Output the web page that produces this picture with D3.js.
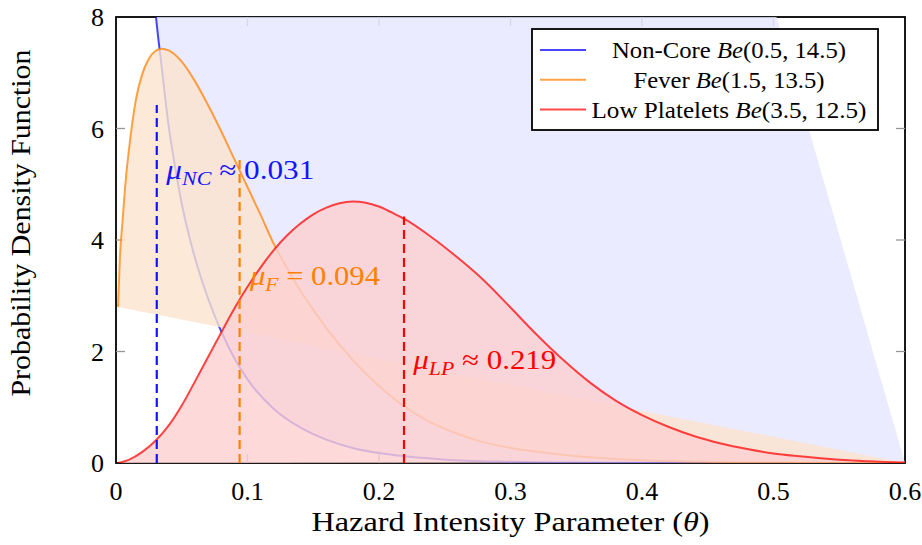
<!DOCTYPE html>
<html>
<head>
<meta charset="utf-8">
<script src="https://cdn.jsdelivr.net/npm/d3@7"></script>
<style>
  body { margin: 0; background: #fff; }
  svg { display: block; }
  text { font-family: 'Liberation Serif', 'Times New Roman', 'DejaVu Serif', serif; }
</style>
</head>
<body>
<div id="chart"></div>
<script>
// values
const xTicks = [0, 0.1, 0.2, 0.3, 0.4, 0.5, 0.6];
const yTicks = [0, 2, 4, 6, 8];

const ncTheta = [0.0015, 0.005, 0.01, 0.02, 0.03, 0.035, 0.04, 0.045, 0.05, 0.06, 0.07, 0.08, 0.09, 0.10,
                 0.12, 0.14, 0.16, 0.18, 0.20, 0.22, 0.25, 0.30, 0.35, 0.40, 0.50, 0.60];
const ncPdf = [49, 26, 18, 11.5, 8.1, 7.05, 6.05, 5.3, 4.65, 3.68, 2.95, 2.36, 1.88, 1.5,
               0.97, 0.64, 0.42, 0.27, 0.18, 0.12, 0.06, 0.022, 0.008, 0.003, 0.0004, 0];

const feverTheta = [0.0015, 0.003, 0.005, 0.0075, 0.01, 0.015, 0.02, 0.025, 0.03, 0.035, 0.04, 0.05, 0.06,
                    0.07, 0.08, 0.09, 0.10, 0.11, 0.12, 0.13, 0.14, 0.15, 0.16, 0.18, 0.20, 0.22, 0.24,
                    0.26, 0.28, 0.30, 0.32, 0.35, 0.40, 0.45, 0.50, 0.55, 0.60];
const feverPdf = [2.8, 3.7, 4.35, 5.1, 5.65, 6.5, 6.98, 7.25, 7.39, 7.43, 7.40, 7.2, 6.85,
                  6.42, 5.95, 5.45, 4.95, 4.45, 3.93, 3.5, 3.1, 2.75, 2.42, 1.85, 1.38, 1.0, 0.72,
                  0.52, 0.37, 0.27, 0.2, 0.12, 0.05, 0.02, 0.008, 0.003, 0.001];

const lpTheta = [0.0015, 0.01, 0.02, 0.03, 0.04, 0.05, 0.06, 0.07, 0.08, 0.09, 0.10, 0.11, 0.12, 0.13,
                 0.14, 0.15, 0.16, 0.17, 0.18, 0.19, 0.20, 0.21, 0.22, 0.24, 0.26, 0.28, 0.30, 0.32,
                 0.34, 0.36, 0.38, 0.40, 0.42, 0.44, 0.46, 0.48, 0.50, 0.52, 0.55, 0.60];
const lpPdf = [0, 0.06, 0.2, 0.4, 0.67, 1.03, 1.46, 1.9, 2.34, 2.77, 3.16, 3.51, 3.82, 4.08,
               4.29, 4.46, 4.58, 4.66, 4.69, 4.67, 4.6, 4.49, 4.37, 4.05, 3.68, 3.27, 2.79, 2.30,
               1.85, 1.45, 1.12, 0.86, 0.65, 0.48, 0.35, 0.25, 0.17, 0.12, 0.06, 0.01];

const meanValues = [0.031, 0.094, 0.219];
const meanTops = [6.42, 5.49, 4.42];
const meanSubs = ['NC', 'F', 'LP'];
const meanSigns = ['\u2248', '=', '\u2248'];

const legendNames = ['Non-Core', 'Fever', 'Low Platelets'];
const legendParams = ['(0.5, 14.5)', '(1.5, 13.5)', '(3.5, 12.5)'];

const W = 922, H = 545;
const plot = {left: 116, right: 905, top: 17, bottom: 463};
const serif = "'Liberation Serif', 'Times New Roman', 'DejaVu Serif', serif";

const x = d3.scaleLinear().domain([0, 0.6]).range([plot.left, plot.right]);
const y = d3.scaleLinear().domain([0, 8]).range([plot.bottom, plot.top]);

const series = [
    {theta: ncTheta, pdf: ncPdf, line: '#0000ff', fill: 'rgb(230,230,255)', mean: 'rgb(20,20,255)'},
    {theta: feverTheta, pdf: feverPdf, line: '#ff8000', fill: 'rgb(253,228,205)', mean: 'rgb(255,128,0)'},
    {theta: lpTheta, pdf: lpPdf, line: '#ff0000', fill: 'rgb(253,208,208)', mean: 'rgb(255,0,0)'}
];

const svg = d3.select('#chart')
    .append('svg')
    .attr('width', W)
    .attr('height', H)
    .attr('font-family', serif);

svg.append('defs').append('clipPath')
    .attr('id', 'plot-clip')
    .append('rect')
    .attr('x', plot.left)
    .attr('y', plot.top)
    .attr('width', plot.right - plot.left)
    .attr('height', plot.bottom - plot.top);

// frame + ticks first, the fills go over them like in pgfplots
svg.append('rect')
    .attr('x', plot.left)
    .attr('y', plot.top)
    .attr('width', plot.right - plot.left)
    .attr('height', plot.bottom - plot.top)
    .attr('fill', 'none')
    .attr('stroke', '#000')
    .attr('stroke-width', 1.8);

const tickLen = 9;
const innerX = xTicks.filter(t => t > 0 && t < 0.6);
const innerY = yTicks.filter(t => t > 0 && t < 8);
const tickGrp = svg.append('g')
    .attr('stroke', 'rgb(150,150,150)')
    .attr('stroke-width', 1.3);

innerX.forEach(t => {
    tickGrp.append('line').attr('x1', x(t)).attr('x2', x(t)).attr('y1', plot.bottom).attr('y2', plot.bottom - tickLen);
    tickGrp.append('line').attr('x1', x(t)).attr('x2', x(t)).attr('y1', plot.top).attr('y2', plot.top + tickLen);
});
innerY.forEach(t => {
    tickGrp.append('line').attr('x1', plot.left).attr('x2', plot.left + tickLen).attr('y1', y(t)).attr('y2', y(t));
    tickGrp.append('line').attr('x1', plot.right).attr('x2', plot.right - tickLen).attr('y1', y(t)).attr('y2', y(t));
});

const line = d3.line()
    .x(d => x(d[0]))
    .y(d => y(d[1]))
    .curve(d3.curveMonotoneX);

const plotGrp = svg.append('g').attr('clip-path', 'url(#plot-clip)');

series.forEach(s => {
    const pts = s.theta.map((t, i) => [t, s.pdf[i]]);
    // closed back to the first sample, as the original fill does
    plotGrp.append('path')
        .attr('d', line(pts) + 'Z')
        .attr('fill', s.fill)
        .attr('fill-opacity', 0.8)
        .attr('stroke', 'none');
    plotGrp.append('path')
        .attr('d', line(pts))
        .attr('fill', 'none')
        .attr('stroke', s.line)
        .attr('stroke-opacity', 0.72)
        .attr('stroke-width', 2);
});

// mean markers
meanValues.forEach((m, i) => {
    plotGrp.append('line')
        .attr('x1', x(m))
        .attr('x2', x(m))
        .attr('y1', y(0))
        .attr('y2', y(meanTops[i]))
        .attr('stroke', series[i].mean)
        .attr('stroke-width', 2.2)
        .attr('stroke-dasharray', '9,5');
});

const meanLabelPos = [[0.0383, 5.09, 148], [0.1019, 3.19, 130], [0.2261, 1.69, 143]];
meanValues.forEach((m, i) => {
    const p = meanLabelPos[i];
    const t = svg.append('text')
        .attr('x', x(p[0]))
        .attr('y', y(p[1]))
        .attr('fill', series[i].mean)
        .attr('font-family', serif)
        .attr('font-size', 27)
        .attr('textLength', p[2])
        .attr('lengthAdjust', 'spacingAndGlyphs');
    t.append('tspan').attr('font-style', 'italic').text('\u03bc');
    t.append('tspan').attr('font-style', 'italic').attr('font-size', 19).attr('dy', 6).text(meanSubs[i]);
    t.append('tspan').attr('dy', -6).text(' ' + meanSigns[i] + ' ' + m.toFixed(3));
});

// tick labels
svg.append('g').selectAll('text')
    .data(xTicks)
    .join('text')
    .attr('x', d => x(d))
    .attr('y', 500)
    .attr('text-anchor', 'middle')
    .attr('font-family', serif)
    .attr('font-size', 26)
    .text(d => d === 0 ? '0' : d.toFixed(1));

svg.append('g').selectAll('text')
    .data(yTicks)
    .join('text')
    .attr('x', 104)
    .attr('y', d => y(d) + 9)
    .attr('text-anchor', 'end')
    .attr('font-family', serif)
    .attr('font-size', 26)
    .text(d => d);

// axis titles
const xt = svg.append('text')
    .attr('x', (plot.left + plot.right) / 2)
    .attr('y', 531)
    .attr('text-anchor', 'middle')
    .attr('font-family', serif)
    .attr('font-size', 27)
    .attr('textLength', 398)
    .attr('lengthAdjust', 'spacingAndGlyphs');
xt.append('tspan').text('Hazard Intensity Parameter (');
xt.append('tspan').attr('font-style', 'italic').text('\u03b8');
xt.append('tspan').text(')');

svg.append('text')
    .attr('transform', 'translate(30,223) rotate(-90)')
    .attr('text-anchor', 'middle')
    .attr('font-family', serif)
    .attr('font-size', 27)
    .attr('textLength', 347)
    .attr('lengthAdjust', 'spacingAndGlyphs')
    .text('Probability Density Function');

// legend
const legend = svg.append('g');
legend.append('rect')
    .attr('x', 532)
    .attr('y', 29)
    .attr('width', 346)
    .attr('height', 101)
    .attr('fill', '#fff')
    .attr('stroke', '#000')
    .attr('stroke-width', 1.8);

const legendWidths = [234, 191, 275];
legendNames.forEach((name, i) => {
    const ry = 50 + i * 29.8;
    legend.append('line')
        .attr('x1', 540)
        .attr('x2', 586)
        .attr('y1', ry)
        .attr('y2', ry)
        .attr('stroke', series[i].line)
        .attr('stroke-opacity', 0.72)
        .attr('stroke-width', 2);
    const t = legend.append('text')
        .attr('x', 729)
        .attr('y', ry + 8)
        .attr('text-anchor', 'middle')
        .attr('font-family', serif)
        .attr('font-size', 23)
        .attr('textLength', legendWidths[i])
        .attr('lengthAdjust', 'spacingAndGlyphs');
    t.append('tspan').text(name + ' ');
    t.append('tspan').attr('font-style', 'italic').text('Be');
    t.append('tspan').text(legendParams[i]);
});
</script>
</body>
</html>
